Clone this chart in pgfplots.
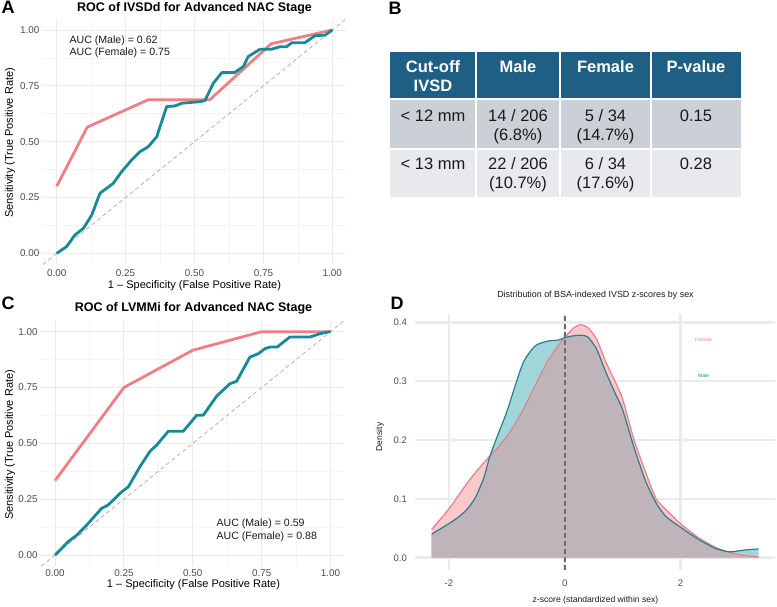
\documentclass[border=0pt]{standalone}
\usepackage{pgfplots}
\pgfplotsset{compat=1.18}
\usepackage{fontspec}
\setmainfont{Liberation Sans}
\definecolor{fem}{HTML}{EF7F84}
\definecolor{mal}{HTML}{178A98}
\definecolor{gmaj}{HTML}{EBEBEB}
\definecolor{gmin}{HTML}{F4F4F4}
\definecolor{tlab}{HTML}{4D4D4D}
\definecolor{hdr}{HTML}{1E5F83}
\definecolor{rowa}{HTML}{CBCFD6}
\definecolor{rowb}{HTML}{E7E9EC}
\definecolor{ffill}{HTML}{F8C8CA}
\definecolor{mfill}{HTML}{A0D6DA}
\definecolor{ofill}{HTML}{C0B4BB}
\definecolor{fline}{HTML}{E8808A}
\definecolor{mline}{HTML}{2A7F8A}
\definecolor{txt}{HTML}{1A1A1A}
\newcommand{\fs}[1]{\fontsize{#1}{#1}\selectfont}

\pgfplotstableread{
x f m o
-2.3 0.048 0.040 0.040
-2.0 0.083 0.058 0.058
-1.85 0.104 0.068 0.068
-1.7 0.125 0.081 0.081
-1.55 0.144 0.101 0.101
-1.4 0.161 0.135 0.135
-1.29 0.173 0.173 0.173
-1.15 0.188 0.210 0.188
-1.0 0.206 0.248 0.206
-0.83 0.232 0.300 0.232
-0.7 0.255 0.335 0.255
-0.51 0.293 0.360 0.293
-0.3 0.333 0.368 0.333
-0.1 0.362 0.370 0.362
0.0 0.375 0.374 0.374
0.15 0.390 0.377 0.377
0.27 0.396 0.378 0.378
0.4 0.391 0.375 0.375
0.55 0.372 0.355 0.355
0.7 0.335 0.318 0.318
0.87 0.300 0.280 0.280
1.0 0.270 0.252 0.252
1.2 0.200 0.187 0.187
1.4 0.145 0.130 0.130
1.58 0.100 0.093 0.093
1.75 0.082 0.070 0.070
2.0 0.058 0.052 0.052
2.3 0.035 0.032 0.032
2.6 0.018 0.016 0.016
2.85 0.009 0.010 0.009
3.1 0.004 0.013 0.004
3.35 0.001 0.015 0.001
}\dens

\pgfplotsset{
  roc/.style={
    scale only axis, width=303.2pt, height=245.7pt,
    xmin=-0.05, xmax=1.05, ymin=-0.05, ymax=1.05,
    xtick={0,0.25,0.5,0.75,1}, ytick={0,0.25,0.5,0.75,1},
    xticklabels={0.00,0.25,0.50,0.75,1.00},
    yticklabels={0.00,0.25,0.50,0.75,1.00},
    minor xtick={0.125,0.375,0.625,0.875},
    minor ytick={0.125,0.375,0.625,0.875},
    grid=both,
    major grid style={color=gmaj, line width=0.9pt},
    minor grid style={color=gmin, line width=0.5pt},
    axis line style={draw=none},
    major tick length=0pt, minor tick length=0pt,
    tick label style={font=\fs{9.9}, color=tlab},
    clip=true,
  },
  diag/.style={color=black!38, line width=0.6pt, dash pattern=on 4pt off 3pt},
  femroc/.style={color=fem, line width=2.8pt, line join=round},
  malroc/.style={color=mal, line width=2.8pt, line join=round},
}

\begin{document}
\begin{tikzpicture}
\useasboundingbox (0,0) rectangle (777pt,606pt);

% ---------------- Panel A ----------------
\begin{axis}[roc, at={(42.9pt,341.5pt)}, anchor=south west,
  xticklabel style={yshift=-2pt}]
\addplot[diag] coordinates {(-0.05,-0.05) (1.05,1.05)};
\addplot[femroc] coordinates {(0,0.30) (0.111,0.565) (0.333,0.688) (0.556,0.688) (0.778,0.938) (1,1)};
\addplot[malroc] coordinates {
(0,0) (0.036,0.03) (0.066,0.082) (0.097,0.112) (0.127,0.171) (0.157,0.269)
(0.205,0.313) (0.236,0.366) (0.272,0.418) (0.302,0.455) (0.332,0.477)
(0.363,0.522) (0.399,0.657) (0.429,0.66) (0.454,0.672) (0.52,0.679)
(0.538,0.684) (0.568,0.761) (0.599,0.809) (0.645,0.809) (0.677,0.836)
(0.695,0.881) (0.738,0.914) (0.78,0.914) (0.81,0.925) (0.834,0.925)
(0.853,0.943) (0.9,0.943) (0.937,0.974) (0.974,0.977) (1,1)};
\end{axis}
\node[font=\bfseries\fs{18}] at (8pt,599pt) {A};
\node[font=\bfseries\fs{12.5}] at (194.5pt,598pt) {ROC of IVSDd for Advanced NAC Stage};
\node[font=\fs{11}, rotate=90] at (10pt,463pt) {Sensitivity (True Positive Rate)};
\node[font=\fs{11}] at (194.5pt,320pt) {1 – Specificity (False Positive Rate)};
\node[font=\fs{10.6}, color=txt, anchor=west] at (66pt,565pt) {AUC (Male) = 0.62};
\node[font=\fs{10.6}, color=txt, anchor=west] at (66pt,553pt) {AUC (Female) = 0.75};

% ---------------- Panel C ----------------
\begin{axis}[roc, at={(41.2pt,39.8pt)}, anchor=south west]
\addplot[diag] coordinates {(-0.05,-0.05) (1.05,1.05)};
\addplot[femroc] coordinates {(0,0.333) (0.25,0.75) (0.5,0.917) (0.75,1) (1,1)};
\addplot[malroc] coordinates {
(0,0) (0.018,0.022) (0.048,0.06) (0.079,0.089) (0.115,0.134) (0.169,0.209)
(0.193,0.224) (0.242,0.283) (0.266,0.305) (0.308,0.395) (0.345,0.465)
(0.369,0.492) (0.411,0.554) (0.465,0.554) (0.49,0.59) (0.514,0.626)
(0.538,0.626) (0.587,0.712) (0.635,0.767) (0.659,0.778) (0.707,0.886)
(0.737,0.901) (0.762,0.924) (0.78,0.931) (0.806,0.931) (0.852,0.976)
(0.925,0.976) (0.961,0.991) (0.997,1.0) (1,1)};
\end{axis}
\node[font=\bfseries\fs{18}] at (8pt,303pt) {C};
\node[font=\bfseries\fs{12.5}] at (193.5pt,298pt) {ROC of LVMMi for Advanced NAC Stage};
\node[font=\fs{11}, rotate=90] at (10pt,161pt) {Sensitivity (True Positive Rate)};
\node[font=\fs{11}] at (193.5pt,21pt) {1 – Specificity (False Positive Rate)};
\node[font=\fs{10.6}, color=txt, anchor=west] at (213pt,82pt) {AUC (Male) = 0.59};
\node[font=\fs{10.6}, color=txt, anchor=west] at (213pt,69pt) {AUC (Female) = 0.88};

% ---------------- Panel B (table) ----------------
\node[font=\bfseries\fs{18}] at (395pt,598pt) {B};
\fill[hdr] (390pt,508pt) rectangle (475pt,554pt);
\fill[hdr] (477pt,508pt) rectangle (559pt,554pt);
\fill[hdr] (561pt,508pt) rectangle (650pt,554pt);
\fill[hdr] (652pt,508pt) rectangle (741pt,554pt);
\fill[rowa] (390pt,458pt) rectangle (475pt,506pt);
\fill[rowa] (477pt,458pt) rectangle (559pt,506pt);
\fill[rowa] (561pt,458pt) rectangle (650pt,506pt);
\fill[rowa] (652pt,458pt) rectangle (741pt,506pt);
\fill[rowb] (390pt,409pt) rectangle (475pt,456pt);
\fill[rowb] (477pt,409pt) rectangle (559pt,456pt);
\fill[rowb] (561pt,409pt) rectangle (650pt,456pt);
\fill[rowb] (652pt,409pt) rectangle (741pt,456pt);
\begin{scope}[every node/.style={font=\bfseries\fs{16.5}, color=white}]
\node at (433pt,539pt) {Cut-off};
\node at (433pt,520pt) {IVSD};
\node at (518pt,539pt) {Male};
\node at (605.5pt,539pt) {Female};
\node at (696pt,539pt) {P-value};
\end{scope}
\begin{scope}[every node/.style={font=\fs{16.5}, color=txt}]
\node at (433pt,490pt) {< 12 mm};
\node at (518pt,490pt) {14 / 206};
\node at (518pt,470pt) {(6.8\%)};
\node at (605.5pt,490pt) {5 / 34};
\node at (605.5pt,470pt) {(14.7\%)};
\node at (696pt,490pt) {0.15};
\node at (433pt,442pt) {< 13 mm};
\node at (518pt,442pt) {22 / 206};
\node at (518pt,422pt) {(10.7\%)};
\node at (605.5pt,442pt) {6 / 34};
\node at (605.5pt,422pt) {(17.6\%)};
\node at (696pt,442pt) {0.28};
\end{scope}

% ---------------- Panel D ----------------
\begin{axis}[at={(415.4pt,36.5pt)}, anchor=south west,
  scale only axis, width=359.3pt, height=256pt,
  xmin=-2.58, xmax=3.63, ymin=-0.02, ymax=0.415,
  xtick={-2,0,2}, xticklabels={-2,0,2},
  ytick={0,0.1,0.2,0.3,0.4}, yticklabels={0.0,0.1,0.2,0.3,0.4},
  grid=major, major grid style={color=gmaj, line width=2.6pt},
  axis line style={draw=none}, major tick length=0pt,
  tick label style={font=\fs{9.5}, color=tlab},
  xticklabel style={yshift=-7pt}, yticklabel style={xshift=-5pt},
  clip=true]
\addplot[fill=ffill, draw=none, smooth, tension=0.4] table[x=x, y=f] {\dens} \closedcycle;
\addplot[fill=mfill, draw=none, smooth, tension=0.4] table[x=x, y=m] {\dens} \closedcycle;
\addplot[fill=ofill, draw=none, smooth, tension=0.4] table[x=x, y=o] {\dens} \closedcycle;
\addplot[color=fline, line width=1.2pt, smooth, tension=0.4] table[x=x, y=f] {\dens};
\addplot[color=mline, line width=1.2pt, smooth, tension=0.4] table[x=x, y=m] {\dens};
\addplot[color=black!58, line width=1.8pt, dash pattern=on 5pt off 3pt] coordinates {(0,-0.02) (0,0.415)};
\node[font=\fs{5}, color=fem] at (axis cs:2.40,0.370) {Female};
\node[font=\fs{5}, color=mal] at (axis cs:2.40,0.309) {Male};
\end{axis}
\node[font=\bfseries\fs{18}] at (397pt,303pt) {D};
\node[font=\fs{8.9}, color=txt] at (595.5pt,311pt) {Distribution of BSA-indexed IVSD z-scores by sex};
\node[font=\fs{8.6}, color=txt] at (595.5pt,6pt) {z-score (standardized within sex)};
\node[font=\fs{8.6}, color=txt, rotate=90] at (380pt,169pt) {Density};
\end{tikzpicture}
\end{document}
